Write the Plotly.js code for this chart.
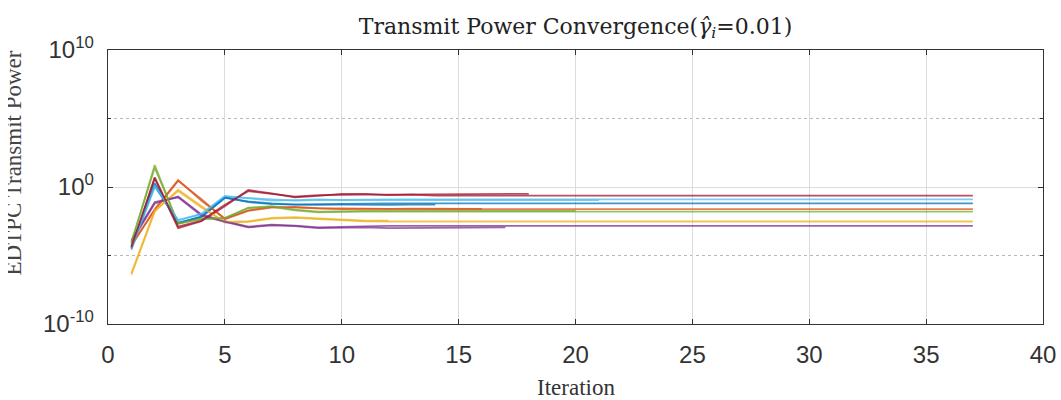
<!DOCTYPE html>
<html>
<head>
<meta charset="utf-8">
<script src="https://cdn.plot.ly/plotly-3.0.1.min.js"></script>
<style>html,body{margin:0;padding:0;background:#fff;}#chart{width:1061px;height:400px;}</style>
</head>
<body>
<div id="chart"></div>
<script>
// Iterations (x axis)
const iterations = [1,2,3,4,5,6,7,8,9,10,11,12,13,14,15,16,17,18,19,20,21,22,23,24,25,26,27,28,29,30,31,32,33,34,35,36,37];

// Transmit power per user (log scale)
const blue1 = [3.98e-5,1.86,2.51e-3,6.31e-3,1.58e-1,8.91e-2,6.31e-2,5.25e-2,5.62e-2,6.03e-2,6.31e-2,6.31e-2,6.46e-2,6.46e-2,6.46e-2,6.46e-2,6.46e-2,6.46e-2,6.46e-2,6.46e-2,6.46e-2,6.46e-2,6.46e-2,6.46e-2,6.46e-2,6.46e-2,6.46e-2,6.46e-2,6.46e-2,6.46e-2,6.46e-2,6.46e-2,6.46e-2,6.46e-2,6.46e-2,6.46e-2,6.46e-2];
const orange1 = [5.01e-5,2.51e-2,3.16,1.0e-1,5.01e-3,2.0e-2,3.55e-2,3.16e-2,2.63e-2,2.40e-2,2.51e-2,2.40e-2,2.40e-2,2.40e-2,2.40e-2,2.40e-2,2.40e-2,2.40e-2,2.40e-2,2.40e-2,2.40e-2,2.40e-2,2.40e-2,2.40e-2,2.40e-2,2.40e-2,2.40e-2,2.40e-2,2.40e-2,2.40e-2,2.40e-2,2.40e-2,2.40e-2,2.40e-2,2.40e-2,2.40e-2,2.40e-2];
const yellow1 = [3.98e-7,1.58e-2,6.31e-1,3.98e-2,2.51e-3,2.82e-3,5.01e-3,5.62e-3,4.47e-3,3.55e-3,3.16e-3,3.02e-3,3.02e-3,3.02e-3,3.02e-3,3.02e-3,3.02e-3,3.02e-3,3.02e-3,3.02e-3,3.02e-3,3.02e-3,3.02e-3,3.02e-3,3.02e-3,3.02e-3,3.02e-3,3.02e-3,3.02e-3,3.02e-3,3.02e-3,3.02e-3,3.02e-3,3.02e-3,3.02e-3,3.02e-3,3.02e-3];
const purple1 = [1.0e-4,6.31e-2,2.0e-1,1.0e-2,3.16e-3,1.26e-3,1.78e-3,1.51e-3,1.12e-3,1.26e-3,1.38e-3,1.45e-3,1.45e-3,1.45e-3,1.45e-3,1.45e-3,1.45e-3,1.45e-3,1.45e-3,1.45e-3,1.45e-3,1.45e-3,1.45e-3,1.45e-3,1.45e-3,1.45e-3,1.45e-3,1.45e-3,1.45e-3,1.45e-3,1.45e-3,1.45e-3,1.45e-3,1.45e-3,1.45e-3,1.45e-3,1.45e-3];
const green1 = [7.94e-5,39.8,2.0e-3,5.01e-3,5.01e-3,3.16e-2,3.55e-2,2.0e-2,1.41e-2,1.58e-2,1.58e-2,1.58e-2,1.58e-2,1.58e-2,1.58e-2,1.58e-2,1.58e-2,1.58e-2,1.58e-2,1.58e-2,1.58e-2,1.58e-2,1.58e-2,1.58e-2,1.58e-2,1.58e-2,1.58e-2,1.58e-2,1.58e-2,1.58e-2,1.58e-2,1.58e-2,1.58e-2,1.58e-2,1.58e-2,1.58e-2,1.58e-2];
const cyan1 = [2.51e-5,1.0,3.98e-3,1.0e-2,2.0e-1,1.58e-1,1.12e-1,1.0e-1,1.12e-1,1.20e-1,1.26e-1,1.26e-1,1.26e-1,1.26e-1,1.26e-1,1.26e-1,1.26e-1,1.26e-1,1.26e-1,1.26e-1,1.26e-1,1.26e-1,1.26e-1,1.26e-1,1.26e-1,1.26e-1,1.26e-1,1.26e-1,1.26e-1,1.26e-1,1.26e-1,1.26e-1,1.26e-1,1.26e-1,1.26e-1,1.26e-1,1.26e-1];
const red1 = [3.16e-5,4.27,1.0e-3,3.16e-3,3.98e-2,6.03e-1,3.47e-1,1.78e-1,2.24e-1,3.16e-1,3.16e-1,2.51e-1,2.82e-1,2.34e-1,2.34e-1,2.34e-1,2.34e-1,2.34e-1,2.34e-1,2.34e-1,2.34e-1,2.34e-1,2.34e-1,2.34e-1,2.34e-1,2.34e-1,2.34e-1,2.34e-1,2.34e-1,2.34e-1,2.34e-1,2.34e-1,2.34e-1,2.34e-1,2.34e-1,2.34e-1,2.34e-1];

// Users whose iterations stop earlier
const blue2 = [5.01e-5,1.41,2.24e-3,7.08e-3,1.78e-1,7.94e-2,5.62e-2,5.01e-2,5.01e-2,5.25e-2,5.01e-2,5.01e-2,5.25e-2,5.25e-2];
const orange2 = [6.31e-5,2.0e-2,2.82,1.26e-1,4.47e-3,1.78e-2,3.16e-2,3.55e-2,2.82e-2,2.63e-2,2.63e-2,2.51e-2,2.63e-2,2.63e-2,2.63e-2,2.51e-2];
const yellow2 = [5.01e-7,2.0e-2,5.01e-1,3.16e-2,2.82e-3,3.16e-3,5.62e-3,6.31e-3,5.01e-3,3.98e-3,3.55e-3,3.55e-3];
const purple2 = [1.26e-4,7.94e-2,1.78e-1,7.94e-3,2.82e-3,1.12e-3,1.58e-3,1.41e-3,1.0e-3,1.12e-3,1.12e-3,1.0e-3,1.0e-3,1.12e-3,1.12e-3,1.12e-3,1.12e-3];
const green2 = [1.0e-4,25.1,2.24e-3,4.47e-3,5.62e-3,2.82e-2,3.98e-2,2.24e-2,1.58e-2,1.78e-2,1.78e-2,1.78e-2,1.78e-2,1.78e-2,1.78e-2,1.78e-2,1.78e-2,1.78e-2,1.78e-2,1.78e-2];
const cyan2 = [3.16e-5,1.26,3.55e-3,1.12e-2,2.24e-1,1.41e-1,1.0e-1,1.12e-1,1.26e-1,1.12e-1,1.12e-1,1.12e-1,1.12e-1,1.12e-1,1.12e-1,1.12e-1,1.12e-1,1.12e-1,1.12e-1,1.12e-1,1.12e-1];
const red2 = [3.98e-5,5.01,1.26e-3,3.55e-3,5.01e-2,5.01e-1,3.16e-1,2.0e-1,2.51e-1,2.82e-1,2.82e-1,2.82e-1,2.82e-1,2.82e-1,2.82e-1,3.16e-1,3.16e-1,3.16e-1];

// Tick labels
const xTicks = [0,5,10,15,20,25,30,35,40];
const yTickVals = [1e-10, 1, 1e10];
const yTickText = ['10<sup>-10</sup>', '10<sup>0</sup>', '10<sup>10</sup>'];
const yMinorVals = [1e-5, 1e5];

const seriesList = [blue1, orange1, yellow1, purple1, green1, cyan1, red1,
                    blue2, orange2, yellow2, purple2, green2, cyan2, red2];
const palette = ['#0072BD','#D95319','#EDB120','#7E2F8E','#77AC30','#4DBEEE','#A2142F'];

const traces = seriesList.map((ys, i) => ({
  type: 'scatter',
  mode: 'lines',
  x: iterations.slice(0, ys.length),
  y: ys,
  line: {color: palette[i % 7], width: 1.8},
  opacity: 0.75,
  showlegend: false,
  hoverinfo: 'skip'
}));

const serif = 'Liberation Serif, Times New Roman, serif';
const narrow = 'Liberation Sans Narrow, Arial Narrow, Liberation Sans, sans-serif';

const layout = {
  width: 1061, height: 400,
  margin: {l: 108, r: 18, t: 50, b: 76},
  paper_bgcolor: '#ffffff', plot_bgcolor: '#ffffff',
  showlegend: false,
  title: {
    text: 'Transmit Power Convergence(<i>γ̂</i><sub><i>i</i></sub>=0.01)',
    font: {family: 'DejaVu Serif, serif', size: 22, color: '#222222'},
    xref: 'paper', x: 0.5, xanchor: 'center',
    yref: 'container', y: 0.935, yanchor: 'middle'
  },
  xaxis: {
    range: [0, 40], tickvals: xTicks, ticktext: xTicks.map(String),
    ticks: 'inside', ticklen: 5, tickcolor: '#333333', tickwidth: 1,
    showline: true, linecolor: '#333333', linewidth: 1.3, mirror: 'ticks',
    showgrid: true, gridcolor: '#dcdcdc', gridwidth: 1,
    zeroline: false, tickfont: {family: narrow, size: 24, color: '#333333'},
    ticklabelstandoff: 9
  },
  yaxis: {
    type: 'log', range: [-10, 10],
    tickvals: yTickVals, ticktext: yTickText,
    ticks: 'inside', ticklen: 5, tickcolor: '#333333', tickwidth: 1,
    showline: true, linecolor: '#333333', linewidth: 1.3, mirror: 'ticks',
    showgrid: true, gridcolor: '#dcdcdc', gridwidth: 1,
    zeroline: false,
    tickfont: {family: 'Liberation Sans, Arial, sans-serif', size: 24, color: '#333333'},
    ticklabelstandoff: 8,
    minor: {tickmode: 'array', tickvals: yMinorVals, ticks: 'inside', ticklen: 3,
            tickcolor: '#333333', showgrid: true, gridcolor: '#b8b8b8', griddash: 'dot', gridwidth: 1}
  },
  annotations: [
    {text: 'Iteration', xref: 'paper', yref: 'paper', x: 0.5, y: -0.23,
     xanchor: 'center', yanchor: 'middle', showarrow: false,
     font: {family: serif, size: 23, color: '#333333'}},
    {text: 'EDTPC Transmit Power', xref: 'paper', yref: 'paper', x: -0.1016, y: 0.586,
     xanchor: 'center', yanchor: 'middle', textangle: -90, showarrow: false,
     font: {family: serif, size: 23, color: '#444444'}},
    {text: ' ', xref: 'paper', yref: 'paper', x: -0.1155, y: 0.586,
     xanchor: 'left', yanchor: 'middle', showarrow: false,
     width: 8, height: 280, bgcolor: '#ffffff', borderpad: 0, borderwidth: 0}
  ]
};

Plotly.newPlot('chart', traces, layout, {displayModeBar: false, staticPlot: true});
</script>
</body>
</html>
